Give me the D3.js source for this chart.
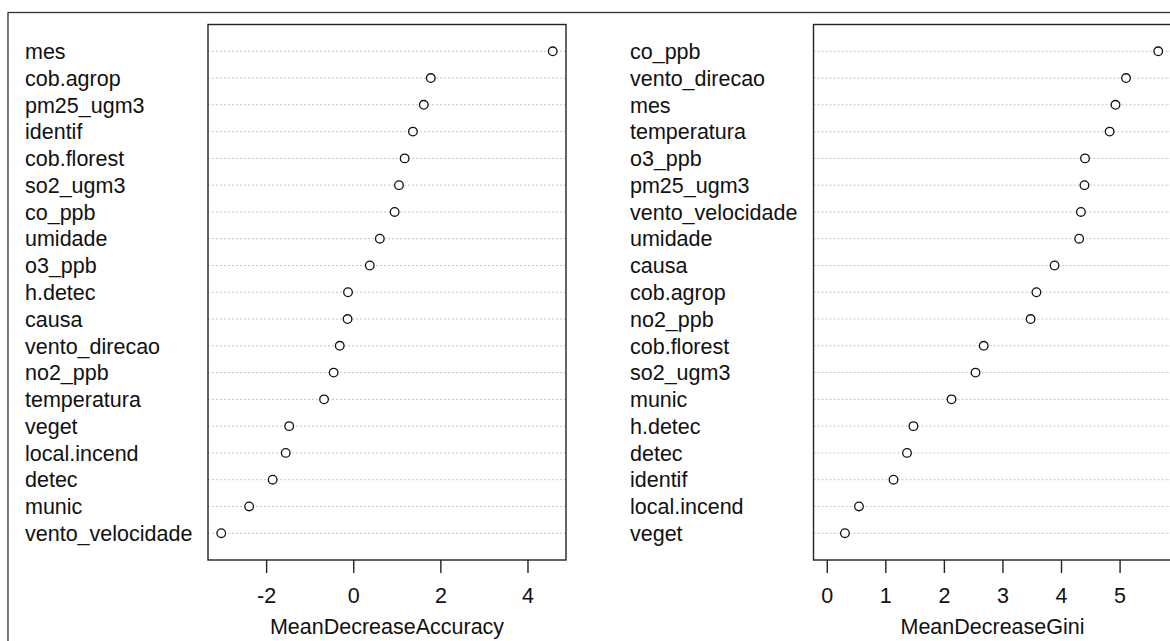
<!DOCTYPE html>
<html>
<head>
<meta charset="utf-8">
<script src="https://cdn.jsdelivr.net/npm/d3@7"></script>
<style>
  body { margin: 0; background: #fff; }
  svg { display: block; font-family: "Liberation Sans", Arial, sans-serif; }
</style>
</head>
<body>
<div id="chart"></div>
<script>
// variable importance, top row first
const accNames = ["mes", "cob.agrop", "pm25_ugm3", "identif", "cob.florest", "so2_ugm3", "co_ppb", "umidade", "o3_ppb", "h.detec", "causa", "vento_direcao", "no2_ppb", "temperatura", "veget", "local.incend", "detec", "munic", "vento_velocidade"];
const accValues = [4.58, 1.78, 1.62, 1.37, 1.18, 1.05, 0.95, 0.61, 0.38, -0.12, -0.13, -0.31, -0.45, -0.67, -1.47, -1.55, -1.85, -2.39, -3.03];

const giniNames = ["co_ppb", "vento_direcao", "mes", "temperatura", "o3_ppb", "pm25_ugm3", "vento_velocidade", "umidade", "causa", "cob.agrop", "no2_ppb", "cob.florest", "so2_ugm3", "munic", "h.detec", "detec", "identif", "local.incend", "veget"];
const giniValues = [5.66, 5.11, 4.93, 4.83, 4.41, 4.40, 4.34, 4.31, 3.89, 3.58, 3.48, 2.68, 2.54, 2.13, 1.48, 1.37, 1.14, 0.55, 0.31];

const accTicks = [-2, 0, 2, 4];
const giniTicks = [0, 1, 2, 3, 4, 5];

const W = 1170, H = 641;
const boxTop = 24.5, boxBottom = 560, boxW = 358;
const fs = 21.5;

const svg = d3.select("#chart").append("svg")
  .attr("width", W)
  .attr("height", H);

// outer frame (runs off the right and bottom of the picture)
svg.append("rect")
  .attr("x", 8).attr("y", 12.5)
  .attr("width", W).attr("height", H)
  .attr("fill", "none")
  .attr("stroke", "#333")
  .attr("stroke-width", 1.3);

function drawPanel(names, values, ticks, title, boxX, labelX, fromZero) {
  // R dotchart: xlim extended by 4% on each side
  const lo = fromZero ? 0 : d3.min(values);
  const hi = d3.max(values);
  const pad = (hi - lo) * 0.04;
  const x = d3.scaleLinear().domain([lo - pad, hi + pad]).range([boxX, boxX + boxW]);
  const y = d3.scalePoint().domain(names).range([boxTop, boxBottom]).padding(1);

  const g = svg.append("g");

  g.selectAll(".grid")
    .data(names)
    .enter()
    .append("line")
    .attr("x1", boxX).attr("x2", boxX + boxW)
    .attr("y1", d => y(d)).attr("y2", d => y(d))
    .attr("stroke", "#c4c4c4")
    .attr("stroke-width", 1)
    .attr("stroke-dasharray", "2,2");

  g.selectAll(".pt")
    .data(names)
    .enter()
    .append("circle")
    .attr("cx", (d, i) => x(values[i]))
    .attr("cy", d => y(d))
    .attr("r", 4.3)
    .attr("fill", "#fff")
    .attr("stroke", "#111")
    .attr("stroke-width", 1.3);

  g.append("rect")
    .attr("x", boxX).attr("y", boxTop)
    .attr("width", boxW).attr("height", boxBottom - boxTop)
    .attr("fill", "none")
    .attr("stroke", "#222")
    .attr("stroke-width", 1.4);

  g.selectAll(".lab")
    .data(names)
    .enter()
    .append("text")
    .attr("x", labelX)
    .attr("y", d => y(d))
    .attr("dy", "0.36em")
    .attr("font-size", fs)
    .attr("fill", "#111")
    .text(d => d);

  const axis = g.append("g")
    .attr("transform", `translate(0,${boxBottom})`)
    .call(d3.axisBottom(x).tickValues(ticks).tickSize(13).tickPadding(14.5).tickFormat(d3.format("d")));
  axis.select(".domain").remove();
  axis.selectAll(".tick line").attr("stroke", "#222").attr("stroke-width", 1.4);
  axis.selectAll(".tick text")
    .attr("font-size", fs)
    .attr("font-family", "Liberation Sans, Arial, sans-serif")
    .attr("fill", "#111")
    .text(d => d < 0 ? "-" + Math.abs(d) : d);

  g.append("text")
    .attr("x", boxX + boxW / 2)
    .attr("y", 633.5)
    .attr("text-anchor", "middle")
    .attr("font-size", fs)
    .attr("fill", "#111")
    .text(title);
}

drawPanel(accNames, accValues, accTicks, "MeanDecreaseAccuracy", 208, 25, false);
drawPanel(giniNames, giniValues, giniTicks, "MeanDecreaseGini", 813.5, 630, true);
</script>
</body>
</html>
